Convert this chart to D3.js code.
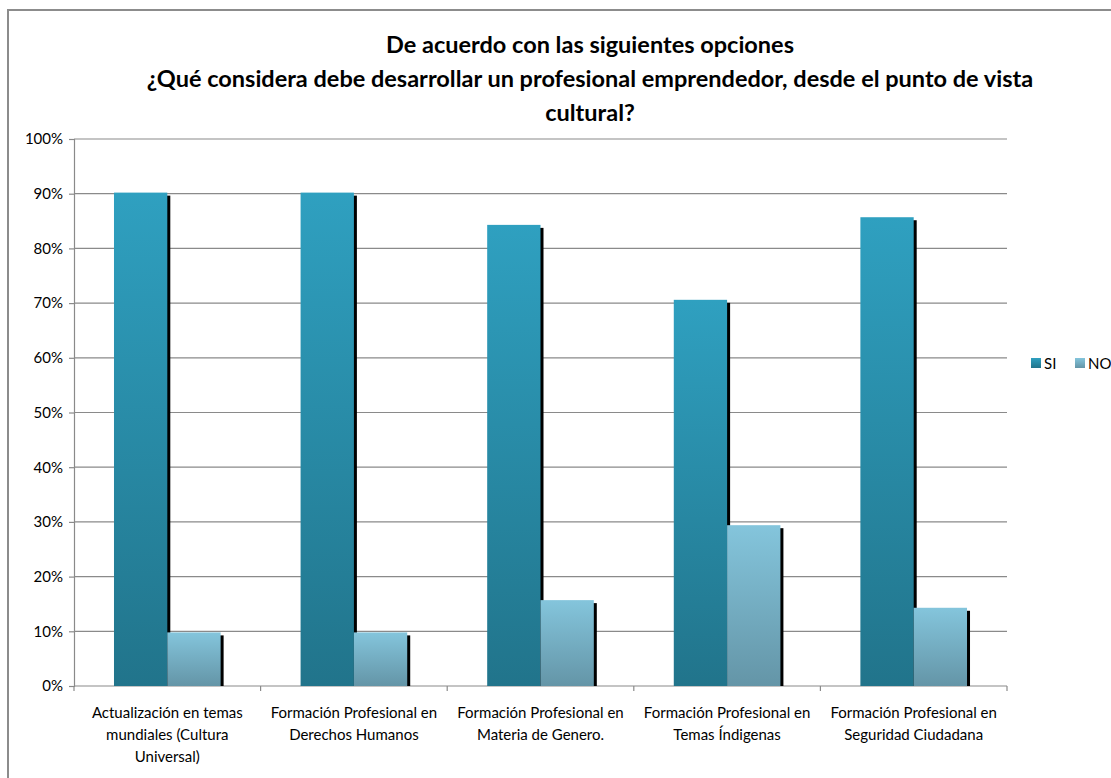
<!DOCTYPE html>
<html>
<head>
<meta charset="utf-8">
<script src="https://cdn.jsdelivr.net/npm/d3@7"></script>
<style>
  body { margin: 0; background: #fff; }
  svg text { font-family: Lato, "Open Sans", sans-serif; fill: #000; }
</style>
</head>
<body>
<svg id="chart" width="1111" height="778"></svg>
<script>
// chart data
var titleLines = [
    "De acuerdo con las siguientes opciones",
    "¿Qué considera debe desarrollar un profesional emprendedor, desde el punto de vista",
    "cultural?"
];
var categories = [
    "Actualización en temas\nmundiales (Cultura\nUniversal)",
    "Formación Profesional en\nDerechos Humanos",
    "Formación Profesional en\nMateria de Genero.",
    "Formación Profesional en\nTemas Índigenas",
    "Formación Profesional en\nSeguridad Ciudadana"
];
var seriesNames = ["SI", "NO"];
var siValues = [0.902, 0.902, 0.843, 0.706, 0.857];
var noValues = [0.098, 0.098, 0.157, 0.294, 0.143];
var yTicks = [0, 0.1, 0.2, 0.3, 0.4, 0.5, 0.6, 0.7, 0.8, 0.9, 1.0];

var svg = d3.select("#chart");
var plotLeft = 74, plotRight = 1007, plotTop = 139, plotBottom = 686;

// gradients
var defs = svg.append("defs");
function addGrad(id, c1, c2) {
    var g = defs.append("linearGradient").attr("id", id)
        .attr("x1", 0).attr("y1", 0).attr("x2", 0).attr("y2", 1);
    g.append("stop").attr("offset", "0%").attr("stop-color", c1);
    g.append("stop").attr("offset", "100%").attr("stop-color", c2);
}
addGrad("gSI", "#2fa0c0", "#21748b");
addGrad("gNO", "#84c5dc", "#6495a7");
var legendFill = { SI: "url(#gSI)", NO: "url(#gNO)" };

// chart border
svg.append("rect")
    .attr("x", 8).attr("y", 10)
    .attr("width", 1120).attr("height", 800)
    .attr("fill", "none").attr("stroke", "#8c8c8c").attr("stroke-width", 2);

// title
svg.append("text")
    .attr("text-anchor", "middle")
    .attr("font-weight", "bold")
    .attr("font-size", "23.5px")
    .selectAll("tspan")
    .data(titleLines)
    .enter()
    .append("tspan")
    .attr("x", 590)
    .attr("y", function (d, i) { return 53 + i * 34; })
    .text(function (d) { return d; });

var x = d3.scaleBand().domain(d3.range(categories.length)).range([plotLeft, plotRight]);
var y = d3.scaleLinear().domain([0, 1]).range([plotBottom, plotTop]);

// gridlines
svg.append("g")
    .selectAll("line")
    .data(yTicks.slice(1))
    .enter()
    .append("line")
    .attr("x1", plotLeft).attr("x2", plotRight)
    .attr("y1", function (d) { return y(d); })
    .attr("y2", function (d) { return y(d); })
    .attr("stroke", "#8a8a8a").attr("stroke-width", 1.2);

// y axis
var yAxis = svg.append("g")
    .attr("transform", "translate(" + plotLeft + ",0)")
    .call(d3.axisLeft(y).tickValues(yTicks).tickFormat(d3.format(".0%"))
        .tickSizeOuter(0).tickSize(5).tickPadding(6));
yAxis.selectAll("path, line").attr("stroke", "#8a8a8a").attr("stroke-width", 1.2);
yAxis.selectAll("text").attr("font-size", "15px").attr("fill", "#000")
    .style("font-family", "Lato, sans-serif");

// x axis
var xEdges = d3.range(categories.length + 1).map(function (i) {
    return plotLeft + i * x.bandwidth();
});
svg.append("line")
    .attr("x1", plotLeft).attr("x2", plotRight)
    .attr("y1", plotBottom).attr("y2", plotBottom)
    .attr("stroke", "#8a8a8a").attr("stroke-width", 1.2);
svg.append("g").selectAll("line")
    .data(xEdges)
    .enter()
    .append("line")
    .attr("x1", function (d) { return d; }).attr("x2", function (d) { return d; })
    .attr("y1", plotBottom).attr("y2", plotBottom + 5)
    .attr("stroke", "#8a8a8a").attr("stroke-width", 1.2);

// bars
var barW = x.bandwidth() / 3.5;
var groupOffset = (x.bandwidth() - 2 * barW) / 2;
var series = [
    { name: "SI", values: siValues, fill: "url(#gSI)" },
    { name: "NO", values: noValues, fill: "url(#gNO)" }
];

series.forEach(function (s, si) {
    var g = svg.append("g").attr("class", "series-" + s.name);
    // shadows
    g.selectAll("rect.shadow")
        .data(s.values)
        .enter()
        .append("rect")
        .attr("class", "shadow")
        .attr("x", function (d, i) { return x(i) + groupOffset + si * barW + 3; })
        .attr("y", function (d) { return y(d) + 3; })
        .attr("width", barW)
        .attr("height", function (d) { return plotBottom - y(d) - 3; })
        .attr("fill", "#000");
    g.selectAll("rect.bar")
        .data(s.values)
        .enter()
        .append("rect")
        .attr("class", "bar")
        .attr("x", function (d, i) { return x(i) + groupOffset + si * barW; })
        .attr("y", function (d) { return y(d); })
        .attr("width", barW)
        .attr("height", function (d) { return plotBottom - y(d); })
        .attr("fill", s.fill);
});

// category labels
svg.append("g").selectAll("text")
    .data(categories)
    .enter()
    .append("text")
    .attr("text-anchor", "middle")
    .attr("font-size", "15px")
    .each(function (d, i) {
        var t = d3.select(this);
        d.split("\n").forEach(function (line, j) {
            t.append("tspan")
                .attr("x", x(i) + x.bandwidth() / 2)
                .attr("y", 718 + j * 22)
                .text(line);
        });
    });

// legend
var legend = svg.append("g").attr("transform", "translate(1031,358)");
var legendX = [0, 44];
seriesNames.forEach(function (name, i) {
    legend.append("rect")
        .attr("x", legendX[i]).attr("y", 0)
        .attr("width", 10).attr("height", 10)
        .attr("fill", legendFill[name]);
    legend.append("text")
        .attr("x", legendX[i] + 13).attr("y", 10.5)
        .attr("font-size", "15px")
        .text(name);
});
</script>
</body>
</html>
